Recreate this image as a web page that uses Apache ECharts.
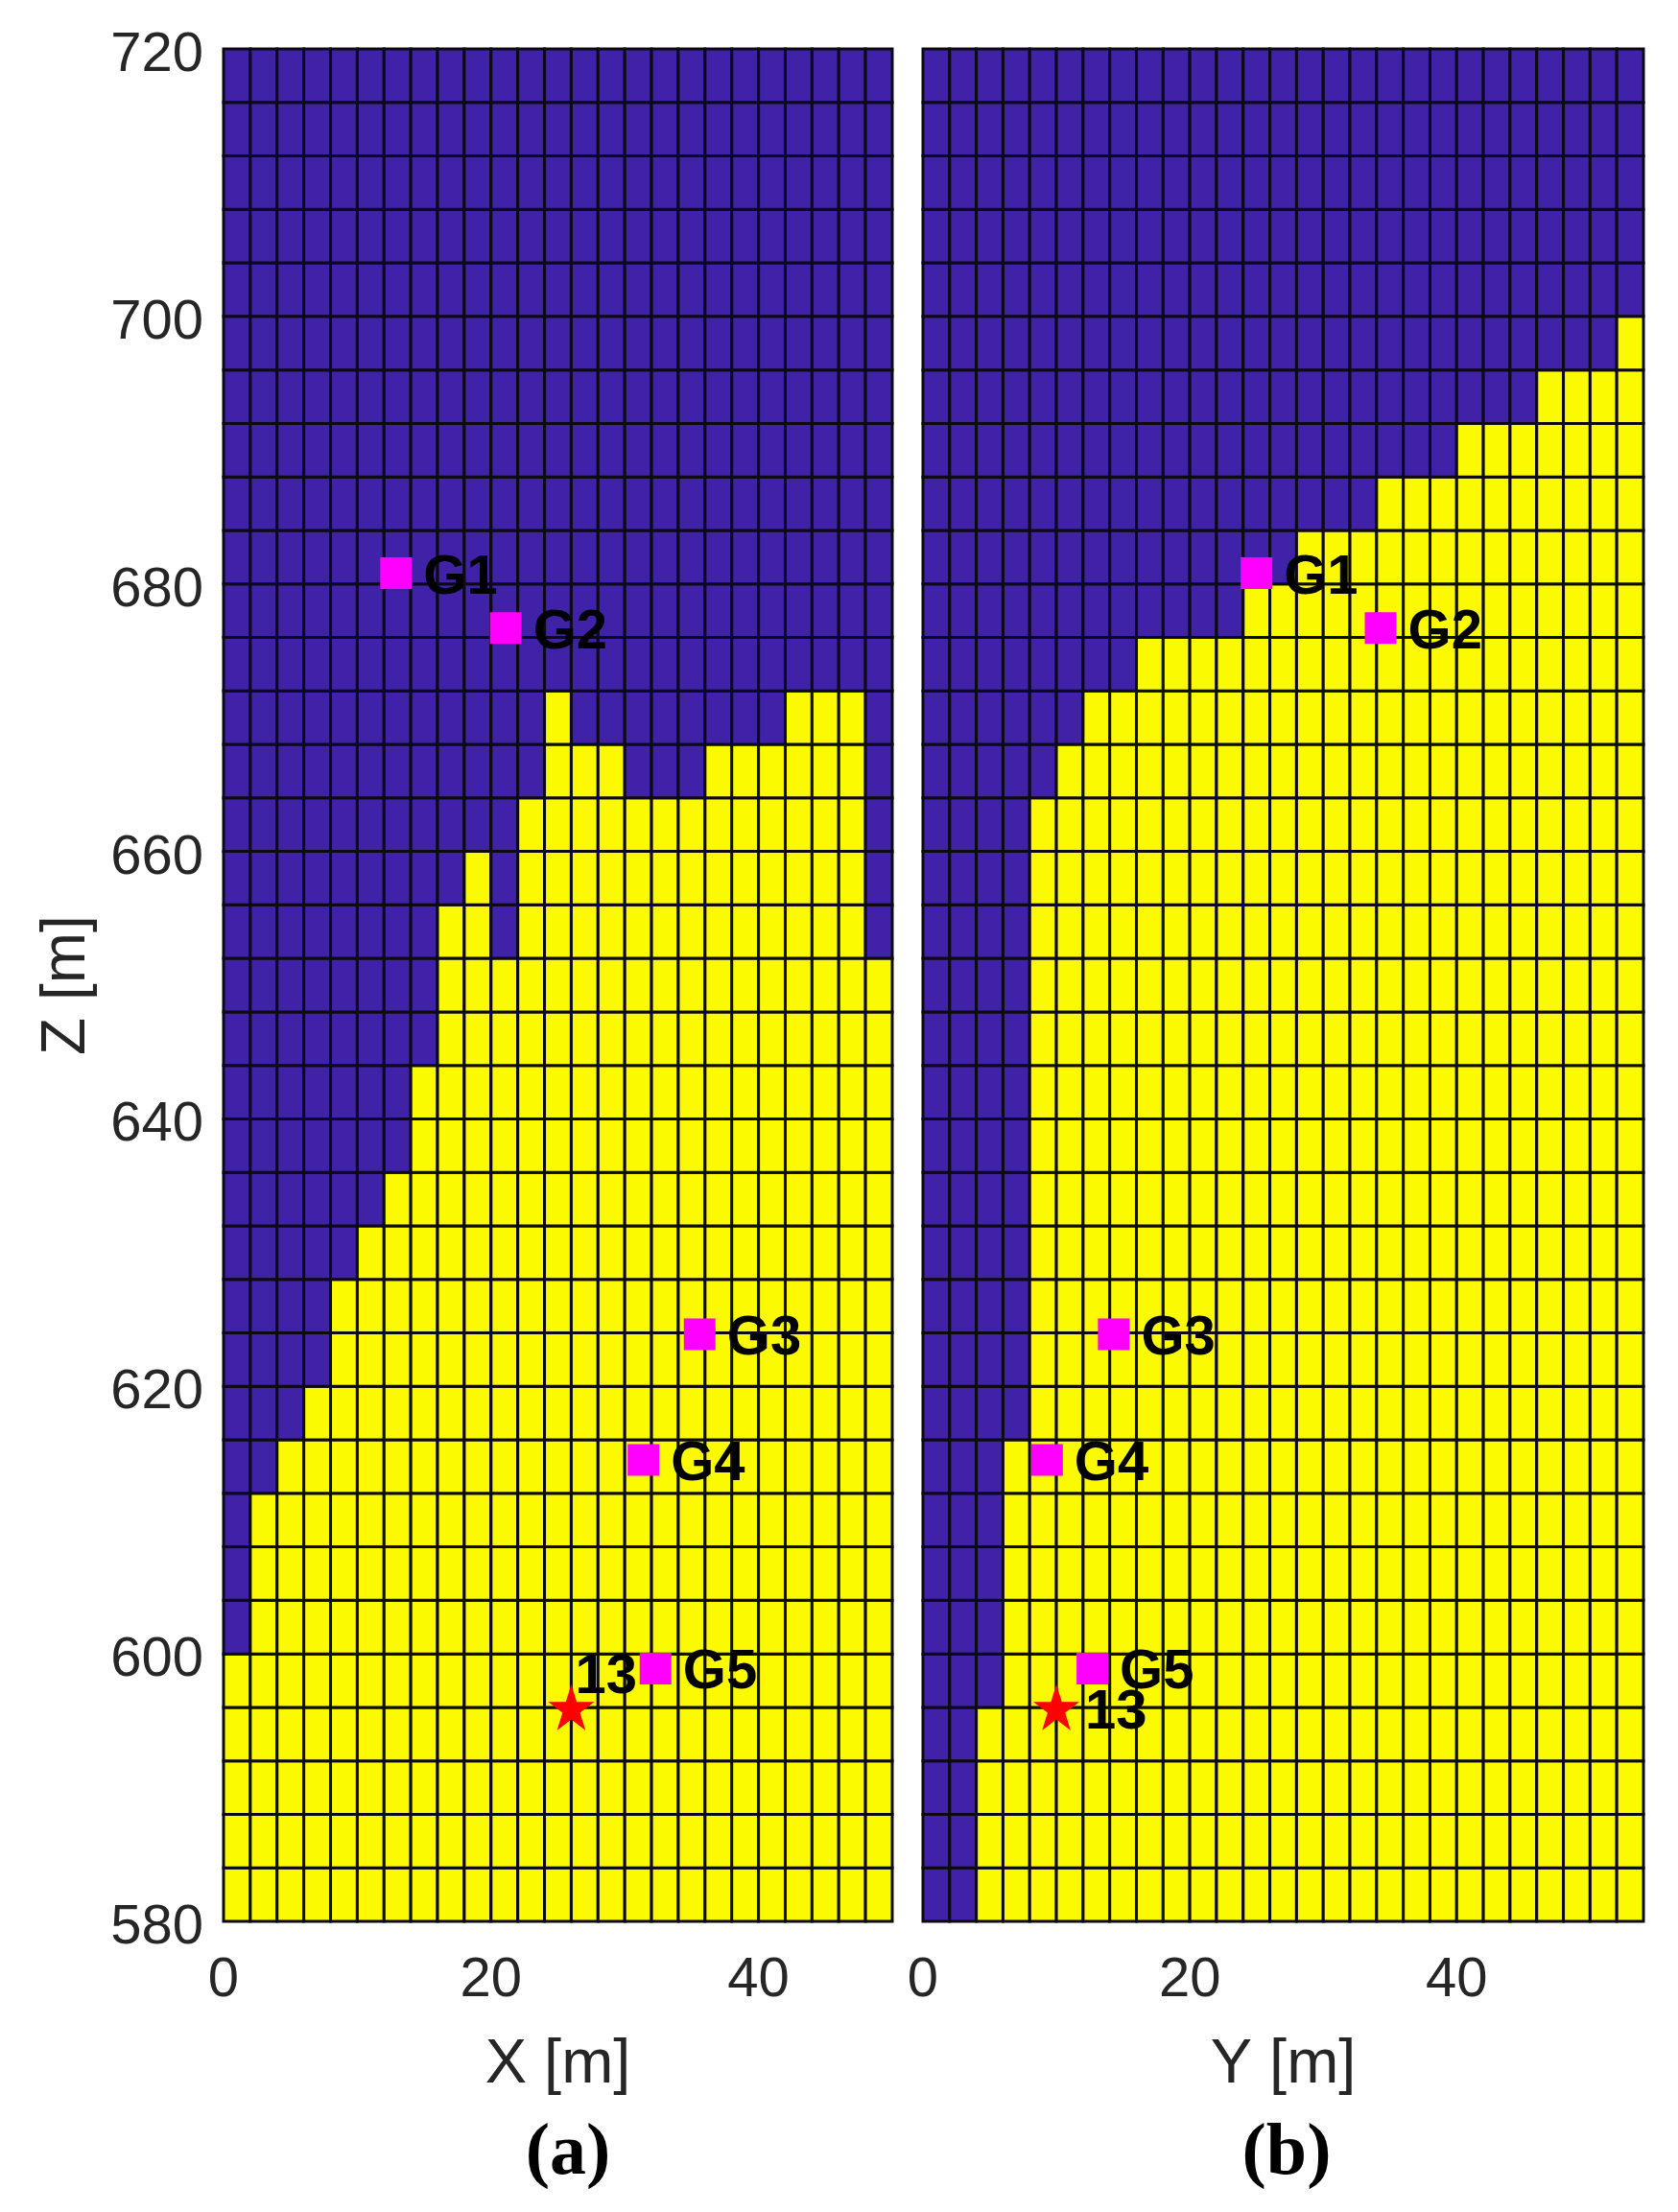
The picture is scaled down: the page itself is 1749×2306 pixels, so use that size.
<!DOCTYPE html>
<html>
<meta charset="UTF-8">
<title>Cross sections X-Z and Y-Z</title>
<style type="text/css">
    html,
    body {
        margin: 0px;
        height: 100%;
        width: 100%;
        background: #fff;
    }

    #chart {
        width: 1749px;
        height: 2306px;
    }
</style>
<script src="https://cdn.jsdelivr.net/npm/echarts@6/dist/echarts.min.js"></script>

<body>
    <div id="chart"></div>
    <script>
        // top of the yellow body in each 2 m column
        const surfaceX = [600, 612, 616, 620, 628, 632, 636, 644, 656, 660, 652, 664, 672,
            668, 668, 664, 664, 664, 668, 668, 668, 672, 672, 672, 652];
        const surfaceY = [580, 580, 596, 616, 664, 668, 672, 672, 676, 676, 676, 676, 680, 680,
            684, 684, 684, 688, 688, 688, 692, 692, 692, 696, 696, 696, 700];

        const gaugeNames = ['G1', 'G2', 'G3', 'G4', 'G5'];
        const gaugeX = [12.9, 21.1, 35.6, 31.4, 32.3];
        const gaugeY = [25.0, 34.3, 14.3, 9.3, 12.7];
        const gaugeZ = [680.8, 676.7, 623.9, 614.5, 598.9];

        const sourceName = '13';
        const sourceX = 26;
        const sourceY = 10;
        const sourceZ = 596;

        const zTicks = { min: 580, max: 720, step: 20 };
        const cellW = 2;
        const cellH = 4;

        const PURPLE = '#3F22A8';
        const YELLOW = '#FBFA00';
        const STAR = 'path://M50 0 L61.8 36.3 L100 36.3 L69.1 58.8 L80.9 95.1 L50 72.6 L19.1 95.1 L30.9 58.8 L0 36.3 L38.2 36.3 Z';
        const FONT = 'Liberation Sans';

        function buildCells(surface) {
            const cells = [];
            surface.forEach((top, i) => {
                for (let z = zTicks.min; z < zTicks.max; z += cellH) {
                    cells.push([i * cellW, z, z < top ? 1 : 0]);
                }
            });
            return cells;
        }

        function renderCell(params, api) {
            const p0 = api.coord([api.value(0), api.value(1) + cellH]);
            const p1 = api.coord([api.value(0) + cellW, api.value(1)]);
            return {
                type: 'rect',
                shape: { x: p0[0], y: p0[1], width: p1[0] - p0[0], height: p1[1] - p0[1] },
                style: {
                    fill: api.value(2) ? YELLOW : PURPLE,
                    stroke: '#0c0a14',
                    lineWidth: 3
                }
            };
        }

        function xAxisOf(gridIndex, max, name) {
            return {
                gridIndex, type: 'value', min: 0, max, interval: 20, name,
                nameLocation: 'middle', nameGap: 118,
                nameTextStyle: { fontFamily: FONT, fontSize: 65, color: '#262626' },
                axisLine: { show: false }, axisTick: { show: false }, splitLine: { show: false },
                axisLabel: { fontFamily: FONT, fontSize: 58, color: '#262626', margin: 33, showMaxLabel: false }
            };
        }

        function yAxisOf(gridIndex, showLabels) {
            return {
                gridIndex, type: 'value', min: zTicks.min, max: zTicks.max, interval: zTicks.step,
                name: showLabels ? 'Z [m]' : '',
                nameLocation: 'middle', nameGap: 131,
                nameTextStyle: { fontFamily: FONT, fontSize: 64, color: '#262626' },
                axisLine: { show: false }, axisTick: { show: false }, splitLine: { show: false },
                // the reference's labels sit a little below their tick
                axisLabel: {
                    show: showLabels, fontFamily: FONT, fontSize: 58, color: '#262626', margin: 21,
                    verticalAlign: 'top', lineHeight: 14, showMinLabel: true, showMaxLabel: true
                }
            };
        }

        function panelSeries(index, surface, gaugeH, sourceH, sourceOffset) {
            return [
                {
                    type: 'custom', xAxisIndex: index, yAxisIndex: index, clip: false, silent: true,
                    renderItem: renderCell, data: buildCells(surface), z: 1
                },
                {
                    type: 'scatter', xAxisIndex: index, yAxisIndex: index, symbol: 'rect', symbolSize: 33,
                    itemStyle: { color: '#FF00FF', opacity: 1 }, z: 3,
                    label: {
                        show: true, position: 'right', distance: 12, offset: [0, 5], formatter: '{b}',
                        fontFamily: FONT, fontWeight: 'bold', fontSize: 58, color: '#000'
                    },
                    data: gaugeNames.map((n, i) => ({ name: n, value: [gaugeH[i], gaugeZ[i]] }))
                },
                {
                    type: 'scatter', xAxisIndex: index, yAxisIndex: index, symbol: STAR, symbolSize: 48,
                    itemStyle: { color: '#FF0000', opacity: 1 }, z: 4,
                    label: {
                        show: true, position: 'right', distance: 4, offset: sourceOffset, formatter: '{b}',
                        fontFamily: FONT, fontWeight: 'bold', fontSize: 58, color: '#000'
                    },
                    data: [{ name: sourceName, value: [sourceH, sourceZ] }]
                }
            ];
        }

        const chart = echarts.init(document.querySelector('#chart'), null, { renderer: 'canvas' });
        chart.setOption({
            animation: false,
            backgroundColor: '#fff',
            title: [
                { text: '(a)', left: 587, top: 2203, textAlign: 'center', textStyle: { fontFamily: 'Liberation Serif', fontWeight: 'bold', fontSize: 76, color: '#000' } },
                { text: '(b)', left: 1336, top: 2203, textAlign: 'center', textStyle: { fontFamily: 'Liberation Serif', fontWeight: 'bold', fontSize: 76, color: '#000' } }
            ],
            grid: [
                { left: 233, top: 51, width: 697, height: 1952 },
                { left: 962, top: 51, width: 751, height: 1952 }
            ],
            xAxis: [xAxisOf(0, surfaceX.length * cellW, 'X [m]'), xAxisOf(1, surfaceY.length * cellW, 'Y [m]')],
            yAxis: [yAxisOf(0, true), yAxisOf(1, false)],
            series: [
                ...panelSeries(0, surfaceX, gaugeX, sourceX, [-24, -31]),
                ...panelSeries(1, surfaceY, gaugeY, sourceY, [2, 6])
            ]
        });
    </script>
</body>

</html>
